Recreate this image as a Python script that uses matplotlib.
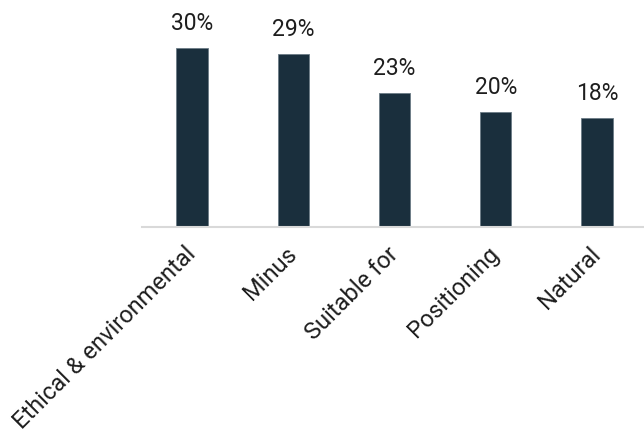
import matplotlib.pyplot as plt

plt.rcParams['font.family'] = ['Roboto', 'DejaVu Sans']

categories = ["Ethical & environmental", "Minus", "Suitable for", "Positioning", "Natural"]
values = [29.9, 28.9, 22.5, 19.3, 18.2]
value_labels = ["30%", "29%", "23%", "20%", "18%"]

bar_color = "#1a2f3d"

fig = plt.figure(figsize=(6.44, 4.33), dpi=100)
ax = fig.add_axes([142 / 644, (433 - 227) / 433, 502 / 644, 227 / 433])

x = list(range(len(categories)))
ax.bar(x, values, width=0.31, color=bar_color, edgecolor="#6b7b86", linewidth=0.6)

for xi, v, lab in zip(x, values, value_labels):
    ax.annotate(lab, (xi, v), xytext=(0, 13), textcoords="offset points",
                ha="center", va="baseline", fontsize=16.5, color="#1e1e1e")

ax.set_xlim(-0.494, 4.464)
ax.set_ylim(0, 38)
ax.set_yticks([])
ax.set_xticks(x)
ax.set_xticklabels(categories, rotation=45, ha="right", va="center",
                   rotation_mode="anchor", fontsize=17, color="#1e1e1e")
ax.tick_params(axis="x", length=0, pad=17)

for side in ["top", "left", "right"]:
    ax.spines[side].set_visible(False)
ax.spines["bottom"].set_color("#d9d9d9")
ax.spines["bottom"].set_linewidth(1.5)

fig.savefig("out.png", dpi=100)
